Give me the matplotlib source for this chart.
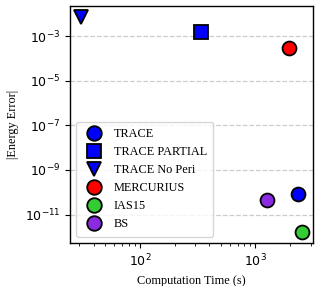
import matplotlib
matplotlib.use("Agg")
import matplotlib.pyplot as plt
from matplotlib.ticker import NullFormatter

labels = ["TRACE", "TRACE PARTIAL", "TRACE No Peri", "MERCURIUS", "IAS15", "BS"]
times = [2320, 340, 30.8, 1940, 2520, 1270]
errors = [8.3e-11, 1.6e-3, 7.4e-3, 2.8e-4, 1.7e-12, 4.6e-11]
colors = ["#0000ff", "#0000ff", "#0000ff", "#ff0000", "#33cc33", "#8a2be2"]
markers = ["o", "s", "v", "o", "o", "o"]

serif = ["Liberation Serif", "DejaVu Serif"]

fig = plt.figure(figsize=(3.16, 2.86), dpi=100)
ax = fig.add_axes([0.2215, 0.1514, 0.77, 0.8276])

for t, e, c, m, l in zip(times, errors, colors, markers, labels):
    ax.plot([t], [e], linestyle="none", marker=m, markersize=10,
            markerfacecolor=c, markeredgecolor="black", markeredgewidth=1.3,
            label=l, zorder=3)

ax.set_xscale("log")
ax.set_yscale("log")
ax.set_xlim(24.9, 3162)
ax.set_ylim(10**-12.26, 10**-1.65)
ax.set_yticks([1e-11, 1e-9, 1e-7, 1e-5, 1e-3])
ax.yaxis.set_minor_locator(plt.NullLocator())
ax.xaxis.set_minor_formatter(NullFormatter())
ax.grid(True, axis="y", which="major", linestyle="--", color="#cccccc", linewidth=0.9)
ax.set_axisbelow(True)
ax.tick_params(labelsize=9)
for s in ax.spines.values():
    s.set_linewidth(1.0)

ax.set_xlabel("Computation Time (s)", fontfamily=serif, fontsize=8.8)
ax.set_ylabel("|Energy Error|", fontfamily=serif, fontsize=8.8)

leg = ax.legend(loc="lower left", prop={"family": serif, "size": 8.8},
                handletextpad=0.6, labelspacing=0.5, borderpad=0.5,
                framealpha=0.8, edgecolor="#cccccc", markerscale=1.05)

fig.savefig("out.png", dpi=100)
